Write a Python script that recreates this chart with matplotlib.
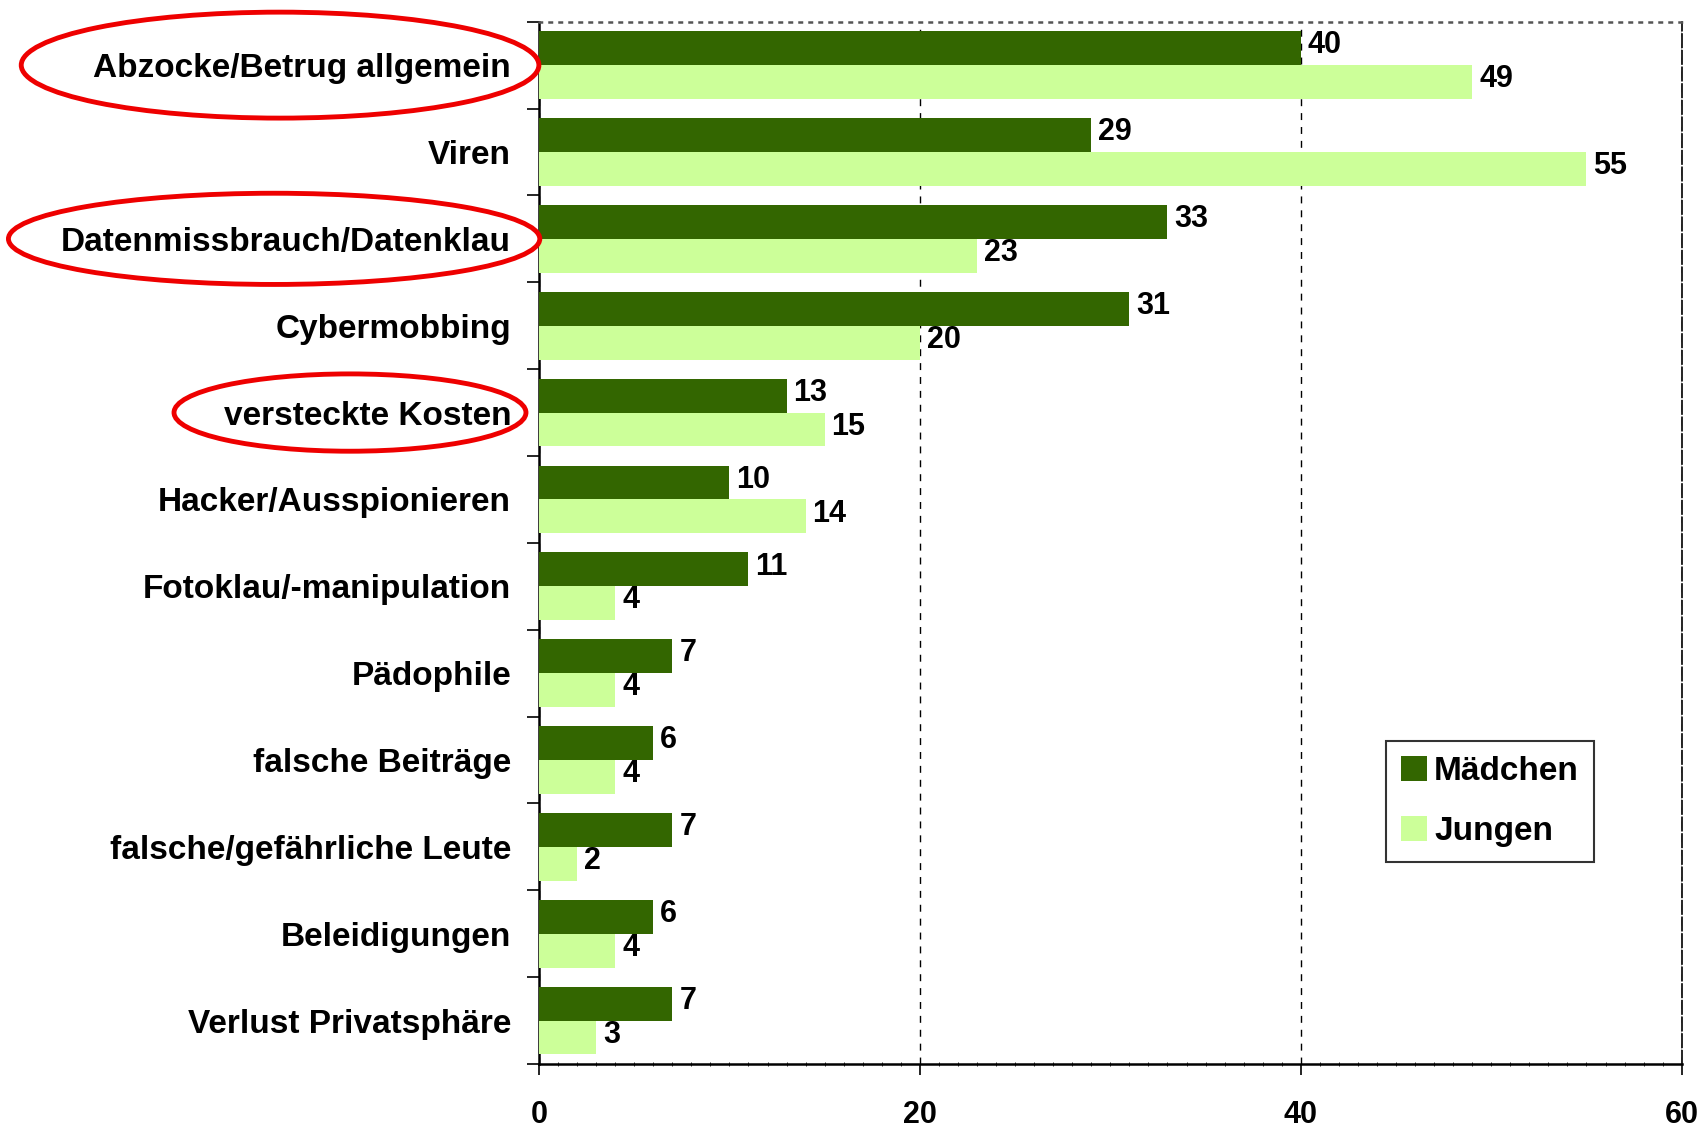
import matplotlib
matplotlib.use("Agg")
import matplotlib.pyplot as plt
from matplotlib.patches import Ellipse
from matplotlib.ticker import MultipleLocator, FixedLocator
import matplotlib.transforms as mtransforms
import numpy as np

plt.rcParams['font.family'] = ['Liberation Sans', 'DejaVu Sans']

# Daten
categories = [
    "Abzocke/Betrug allgemein", "Viren", "Datenmissbrauch/Datenklau",
    "Cybermobbing", "versteckte Kosten", "Hacker/Ausspionieren",
    "Fotoklau/-manipulation", "Pädophile", "falsche Beiträge",
    "falsche/gefährliche Leute", "Beleidigungen", "Verlust Privatsphäre",
]
maedchen = [40, 29, 33, 31, 13, 10, 11, 7, 6, 7, 6, 7]
jungen = [49, 55, 23, 20, 15, 14, 4, 4, 4, 2, 4, 3]
circled = [0, 2, 4]  # markierte Kategorien
x_ticks = [0, 20, 40, 60]

dark = "#336600"
light = "#CCFF99"

fig = plt.figure(figsize=(17.03, 11.30), dpi=100)
ax = fig.add_axes([0.3165, 0.0584, 0.671, 0.9224])

y = np.arange(len(categories))
h = 0.39
ax.barh(y - h / 2, maedchen, height=h, color=dark, label="Mädchen", zorder=3)
ax.barh(y + h / 2, jungen, height=h, color=light, label="Jungen", zorder=3)

# Werte an den Balken
for yi, m, j in zip(y, maedchen, jungen):
    ax.annotate(str(m), (m, yi - h / 2), xytext=(5, 2), textcoords="offset points",
                va="center", ha="left", fontsize=22, fontweight="bold", zorder=4)
    ax.annotate(str(j), (j, yi + h / 2), xytext=(5, 2), textcoords="offset points",
                va="center", ha="left", fontsize=22, fontweight="bold", zorder=4)

ax.set_xlim(0, 60)
ax.set_ylim(len(categories) - 0.5, -0.5)

# x-Achse
ax.xaxis.set_major_locator(FixedLocator(x_ticks))
ax.xaxis.set_minor_locator(MultipleLocator(1))
ax.tick_params(axis="x", which="major", length=8, width=1.2, pad=18, labelsize=22)
ax.tick_params(axis="x", which="minor", length=3, width=0.6, direction="inout")
for lab in ax.get_xticklabels():
    lab.set_fontweight("bold")
ax.grid(axis="x", which="major", linestyle=(0, (5, 5)), color="black", linewidth=1, zorder=1)

# y-Achse: Striche an den Kategoriegrenzen, Beschriftung in der Mitte
ax.yaxis.set_major_locator(FixedLocator(np.arange(len(categories) + 1) - 0.5))
ax.yaxis.set_minor_locator(FixedLocator(y))
ax.set_yticklabels([], minor=False)
ax.set_yticklabels(categories, minor=True, fontsize=24, fontweight="bold")
ax.tick_params(axis="y", which="major", length=9, width=1.2)
ax.tick_params(axis="y", which="minor", length=0, pad=20)

for s in ["left", "bottom"]:
    ax.spines[s].set_linewidth(1.8)
ax.spines["top"].set_linestyle((0, (1, 3)))
ax.spines["top"].set_color("#555555")
ax.spines["top"].set_linewidth(1.8)
ax.spines["right"].set_linestyle((0, (8, 2)))
ax.spines["right"].set_linewidth(1.2)

leg = ax.legend(loc="upper left", bbox_to_anchor=(0.741, 0.31),
                prop={"weight": "bold", "size": 24}, frameon=True, fancybox=False,
                handlelength=0.8, handleheight=0.8, handletextpad=0.2,
                borderpad=0.45, labelspacing=0.85, borderaxespad=0)
leg.get_frame().set_edgecolor("black")
leg.get_frame().set_linewidth(1.5)

# rote Ellipsen um markierte Kategorien
trans = mtransforms.blended_transform_factory(ax.transAxes, ax.transData)
ell = {0: (-0.2266, 0.453, 1.22), 2: (-0.2318, 0.465, 1.05), 4: (-0.1654, 0.308, 0.89)}
for i in circled:
    cx, w, eh = ell[i]
    e = Ellipse((cx, i), w, eh, transform=trans, fill=False, edgecolor="#EE0000",
                linewidth=3.5, clip_on=False, zorder=5)
    ax.add_patch(e)

fig.savefig("out.png", dpi=100)
